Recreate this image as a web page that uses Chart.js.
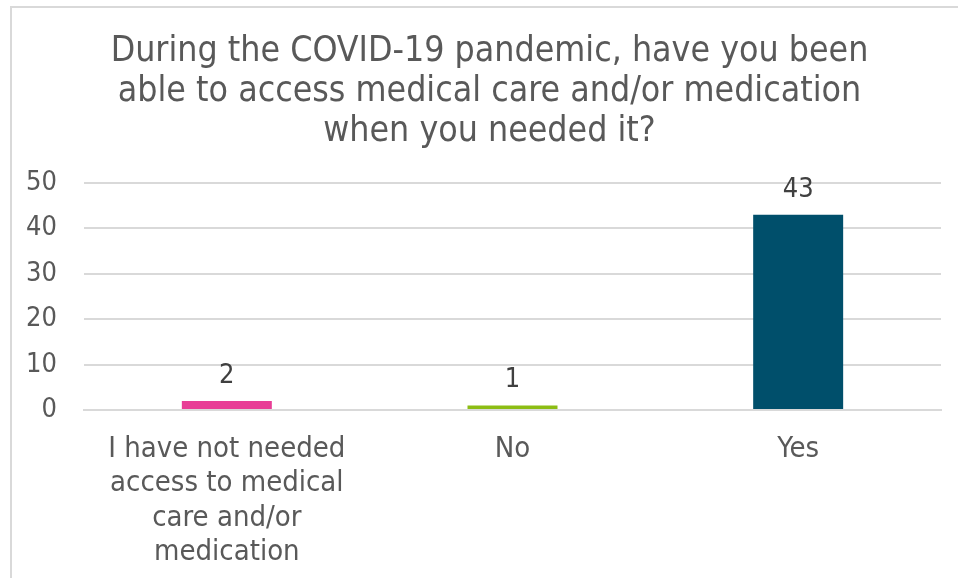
<!DOCTYPE html>
<html>
<head>
<meta charset="utf-8">
<script src="https://cdn.jsdelivr.net/npm/chart.js@4"></script>
<style>
  html, body { margin: 0; padding: 0; background: #fff; }
  #wrap { position: relative; width: 958px; height: 578px; overflow: hidden; }
  #frame { position: absolute; left: 10px; top: 6px; width: 980px; height: 600px; border: 2px solid #d9d9d9; box-sizing: border-box; }
  #chart { position: absolute; left: 0; top: 0; }
</style>
</head>
<body>
<div id="wrap">
  <div id="frame"></div>
  <canvas id="chart" width="958" height="578"></canvas>
</div>
<script>
  // 数据
  const categories = [
    ["I have not needed", "access to medical", "care and/or", "medication"],
    "No",
    "Yes",
  ];
  const counts = [2, 1, 43];
  const barColors = ["#e83e96", "#8cbd14", "#004f6b"];
  const titleLines = [
    "During the COVID-19 pandemic, have you been",
    "able to access medical care and/or medication",
    "when you needed it?",
  ];
  const yTicks = [0, 10, 20, 30, 40, 50];

  const FONT = "'DejaVu Sans Condensed', 'Liberation Sans Narrow', sans-serif";

  // 柱顶数值标签
  const valueLabels = {
    id: "valueLabels",
    afterDatasetsDraw(chart) {
      const { ctx } = chart;
      const meta = chart.getDatasetMeta(0);
      ctx.save();
      ctx.fillStyle = "#404040";
      ctx.font = "27px " + FONT;
      ctx.textAlign = "center";
      ctx.textBaseline = "alphabetic";
      meta.data.forEach((bar, i) => {
        ctx.fillText(String(counts[i]), bar.x, bar.y - 18);
      });
      ctx.restore();
    },
  };

  // 标题居中于图框（而不是整个画布）
  const shiftTitle = {
    id: "shiftTitle",
    afterLayout(chart) {
      if (chart.titleBlock) chart.titleBlock.left += 38;
    },
  };

  new Chart(document.getElementById("chart"), {
    type: "bar",
    data: {
      labels: categories,
      datasets: [{ data: counts, backgroundColor: barColors, barPercentage: 0.63, categoryPercentage: 0.5 }],
    },
    options: {
      responsive: false,
      animation: false,
      layout: { padding: { left: 0, right: 17, top: 0, bottom: 0 } },
      plugins: {
        legend: { display: false },
        tooltip: { enabled: false },
        title: {
          display: true,
          text: titleLines,
          color: "#595959",
          font: { family: FONT, size: 35.4, weight: "normal", lineHeight: 1.13 },
          padding: { top: 32, bottom: 31 },
        },
      },
      scales: {
        x: {
          grid: { display: false },
          border: { color: "#d9d9d9", width: 2 },
          ticks: { color: "#595959", font: { family: FONT, size: 29, lineHeight: 1.19 }, padding: 14, maxRotation: 0, autoSkip: false },
          afterFit(s) { s.height = 168; },
        },
        y: {
          min: 0,
          max: 50,
          afterBuildTicks(s) { s.ticks = yTicks.map((v) => ({ value: v })); },
          grid: { color: "#d9d9d9", lineWidth: 2, drawTicks: false },
          border: { display: false },
          ticks: { color: "#595959", font: { family: FONT, size: 27 }, padding: 27 },
          afterFit(s) { s.width = 84; },
        },
      },
    },
    plugins: [valueLabels, shiftTitle],
  });
</script>
</body>
</html>
